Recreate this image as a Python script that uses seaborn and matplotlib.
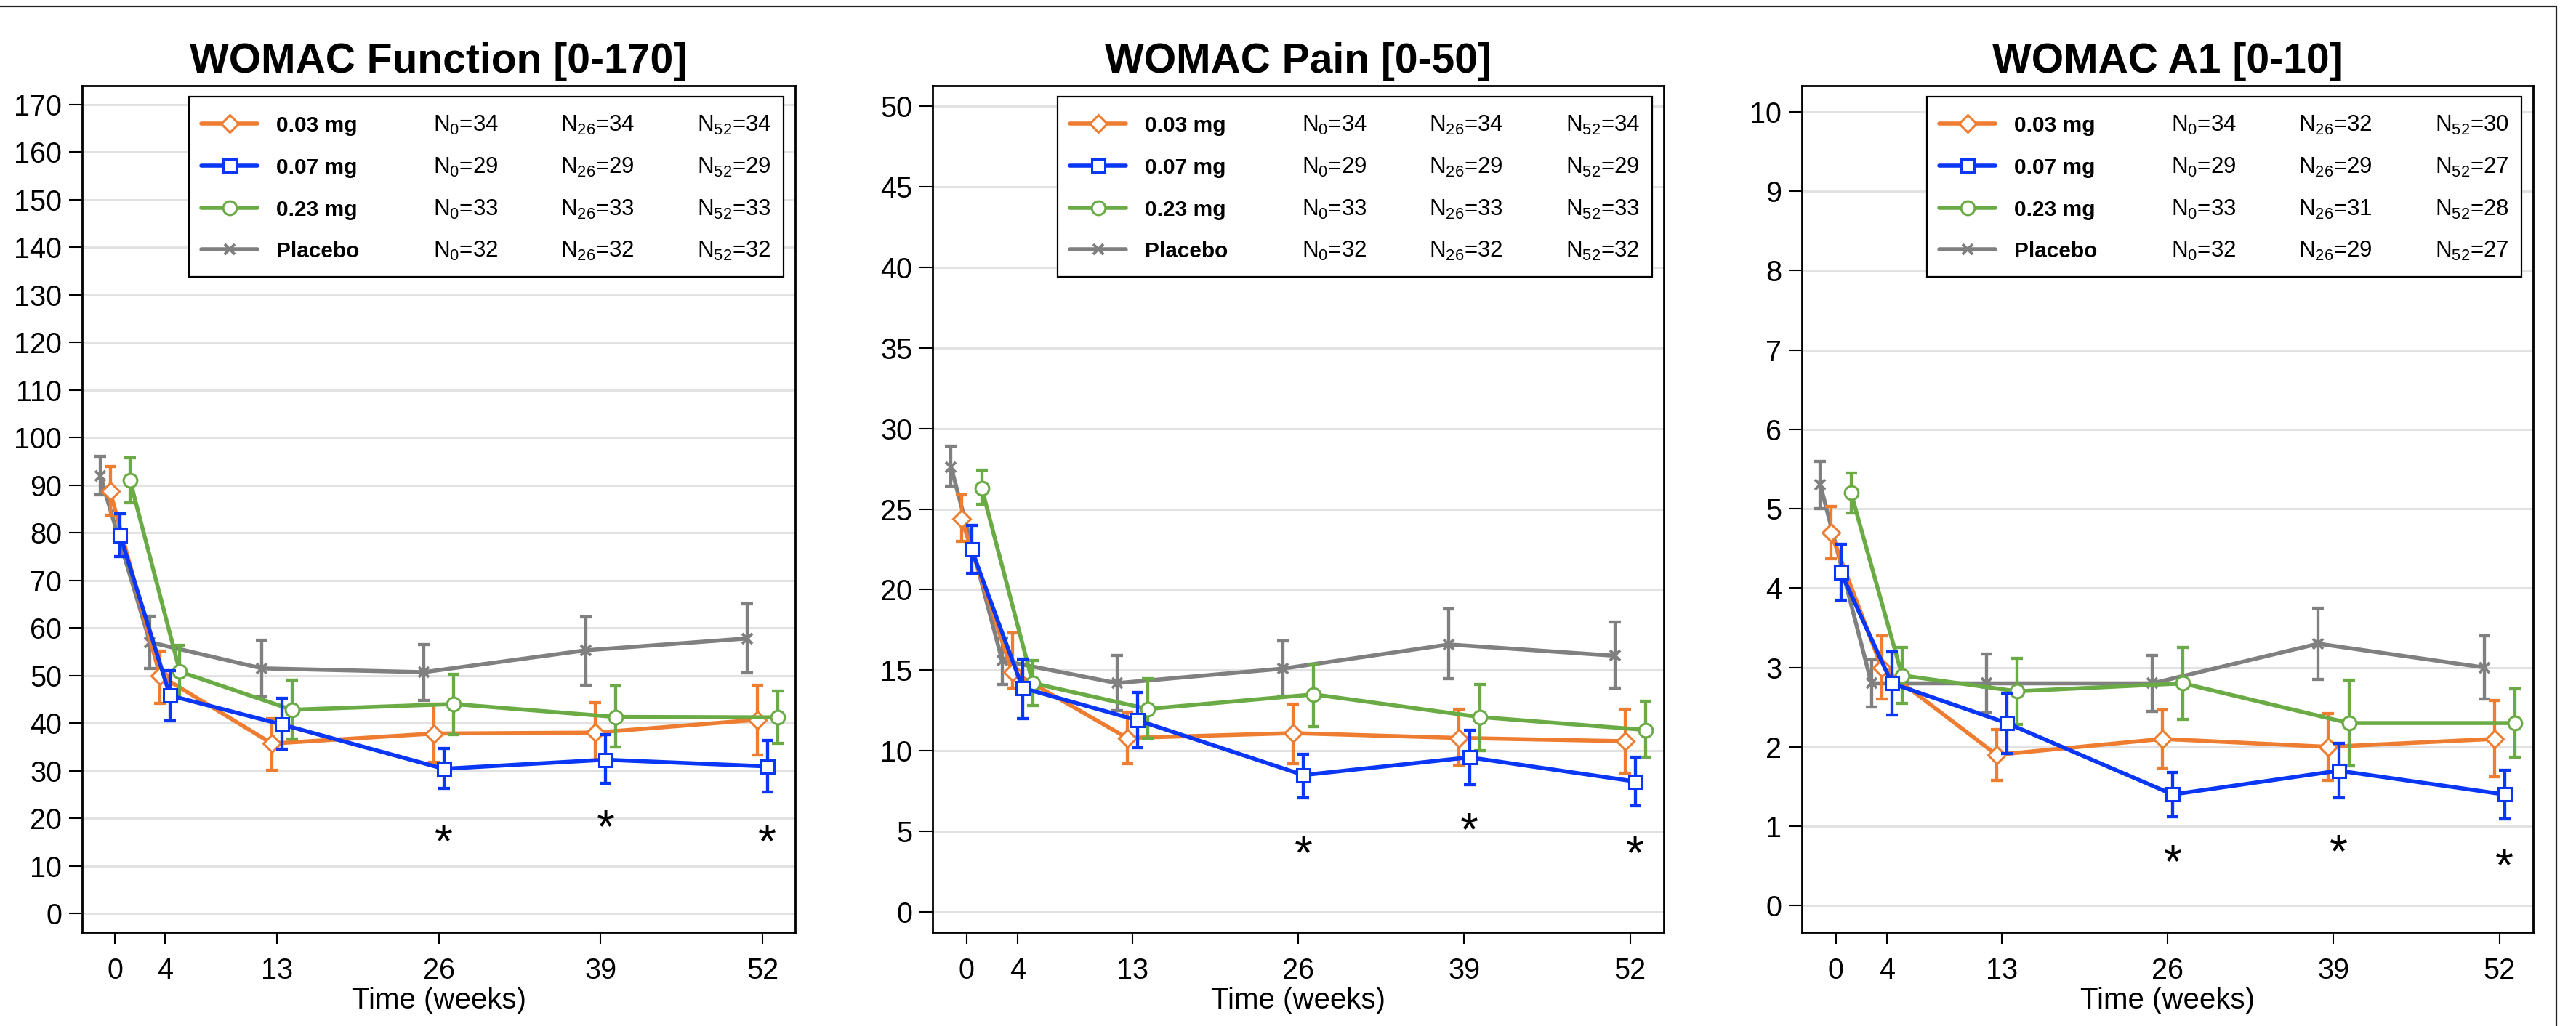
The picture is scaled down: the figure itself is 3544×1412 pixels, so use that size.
import numpy as np
import pandas as pd
import matplotlib
matplotlib.use("Agg")
import matplotlib.pyplot as plt
import matplotlib.transforms as mtransforms
import seaborn as sns
from matplotlib.lines import Line2D
from matplotlib.patches import Rectangle

# ------------------------------------------------------------------ data
WEEKS = [0, 4, 13, 26, 39, 52]
GROUPS = ["0.03 mg", "0.07 mg", "0.23 mg", "Placebo"]
STAR_WEEKS = [26, 39, 52]

# WOMAC Function [0-170]
FUNC_MEAN = {
    "0.03 mg": [88.7, 50.0, 35.7, 37.8, 38.0, 40.7],
    "0.07 mg": [79.5, 45.8, 39.7, 30.4, 32.3, 30.9],
    "0.23 mg": [91.0, 50.8, 42.8, 44.0, 41.3, 41.2],
    "Placebo": [92.0, 57.0, 51.5, 50.7, 55.3, 57.8],
}
FUNC_LO = {
    "0.03 mg": [83.7, 44.2, 30.1, 31.7, 32.3, 33.3],
    "0.07 mg": [75.0, 40.5, 34.5, 26.2, 27.3, 25.5],
    "0.23 mg": [86.3, 45.0, 36.7, 37.5, 35.0, 35.7],
    "Placebo": [88.0, 51.5, 45.5, 44.8, 48.0, 50.6],
}
FUNC_HI = {
    "0.03 mg": [94.0, 55.2, 41.0, 44.0, 44.3, 48.0],
    "0.07 mg": [84.0, 51.0, 45.2, 34.6, 37.5, 36.3],
    "0.23 mg": [95.7, 56.3, 49.0, 50.3, 47.8, 46.7],
    "Placebo": [96.0, 62.5, 57.5, 56.5, 62.3, 65.0],
}
FUNC_STARS = [17.6, 20.6, 17.6]
FUNC_N = {
    "0.03 mg": [34, 34, 34],
    "0.07 mg": [29, 29, 29],
    "0.23 mg": [33, 33, 33],
    "Placebo": [32, 32, 32],
}

# WOMAC Pain [0-50]
PAIN_MEAN = {
    "0.03 mg": [24.4, 14.9, 10.8, 11.1, 10.8, 10.6],
    "0.07 mg": [22.5, 13.9, 11.9, 8.5, 9.6, 8.1],
    "0.23 mg": [26.3, 14.2, 12.6, 13.5, 12.1, 11.3],
    "Placebo": [27.6, 15.6, 14.2, 15.1, 16.6, 15.9],
}
PAIN_LO = {
    "0.03 mg": [23.0, 13.9, 9.2, 9.2, 9.1, 8.6],
    "0.07 mg": [21.0, 12.0, 10.2, 7.1, 7.9, 6.6],
    "0.23 mg": [25.3, 12.8, 10.8, 11.5, 10.0, 9.6],
    "Placebo": [26.4, 14.1, 12.5, 13.4, 14.5, 13.9],
}
PAIN_HI = {
    "0.03 mg": [25.9, 17.3, 12.4, 12.9, 12.6, 12.6],
    "0.07 mg": [24.0, 15.7, 13.6, 9.8, 11.3, 9.6],
    "0.23 mg": [27.4, 15.6, 14.5, 15.4, 14.1, 13.1],
    "Placebo": [28.9, 17.0, 15.9, 16.8, 18.8, 18.0],
}
PAIN_STARS = [4.4, 5.8, 4.4]
PAIN_N = {
    "0.03 mg": [34, 34, 34],
    "0.07 mg": [29, 29, 29],
    "0.23 mg": [33, 33, 33],
    "Placebo": [32, 32, 32],
}

# WOMAC A1 [0-10]
A1_MEAN = {
    "0.03 mg": [4.7, 3.0, 1.9, 2.1, 2.0, 2.1],
    "0.07 mg": [4.2, 2.8, 2.3, 1.4, 1.7, 1.4],
    "0.23 mg": [5.2, 2.9, 2.7, 2.8, 2.3, 2.3],
    "Placebo": [5.3, 2.8, 2.8, 2.8, 3.3, 3.0],
}
A1_LO = {
    "0.03 mg": [4.37, 2.6, 1.58, 1.73, 1.58, 1.62],
    "0.07 mg": [3.85, 2.4, 1.92, 1.12, 1.36, 1.09],
    "0.23 mg": [4.95, 2.55, 2.28, 2.35, 1.76, 1.87],
    "Placebo": [5.0, 2.5, 2.43, 2.45, 2.85, 2.6],
}
A1_HI = {
    "0.03 mg": [5.03, 3.4, 2.22, 2.47, 2.42, 2.58],
    "0.07 mg": [4.55, 3.2, 2.68, 1.68, 2.04, 1.71],
    "0.23 mg": [5.45, 3.25, 3.12, 3.25, 2.84, 2.73],
    "Placebo": [5.6, 3.1, 3.17, 3.15, 3.75, 3.4],
}
A1_STARS = [0.7, 0.83, 0.65]
A1_N = {
    "0.03 mg": [34, 32, 30],
    "0.07 mg": [29, 29, 27],
    "0.23 mg": [33, 31, 28],
    "Placebo": [32, 29, 27],
}

TITLES = ["WOMAC Function [0-170]", "WOMAC Pain [0-50]", "WOMAC A1 [0-10]"]
Y_TICKS = [np.arange(0, 171, 10), np.arange(0, 51, 5), np.arange(0, 11, 1)]

# ------------------------------------------------------------------ style
COLORS = {"0.03 mg": "#EE7D31", "0.07 mg": "#0A36F5", "0.23 mg": "#6BAB45", "Placebo": "#808080"}
MARKERS = {"0.03 mg": "D", "0.07 mg": "s", "0.23 mg": "o", "Placebo": "x"}
MSIZE = {"0.03 mg": 12.5, "0.07 mg": 13.5, "0.23 mg": 13.5, "Placebo": 10.5}
OFFSET = {"0.03 mg": -0.4, "0.07 mg": 0.4, "0.23 mg": 1.2, "Placebo": -1.2}
ZORD = {"Placebo": 3, "0.03 mg": 4, "0.23 mg": 5, "0.07 mg": 6}
YLIMS = [(-3.97, 173.97), (-1.25, 51.25), (-0.336, 10.33)]
XLIM = (-2.65, 54.63)

W, H = 3544, 1412
DPI = 100
AX_TOP, AX_BOT = 118, 1283
AX_LR = [(113, 1094), (1283, 2289), (2479, 3485)]

sns.set_theme(style="white")
plt.rcParams["font.family"] = ["Liberation Sans", "DejaVu Sans"]
plt.rcParams["mathtext.default"] = "regular"

fig = plt.figure(figsize=(W / DPI, H / DPI), dpi=DPI)
fig.patch.set_facecolor("white")

panels = [
    (FUNC_MEAN, FUNC_LO, FUNC_HI, FUNC_STARS, FUNC_N),
    (PAIN_MEAN, PAIN_LO, PAIN_HI, PAIN_STARS, PAIN_N),
    (A1_MEAN, A1_LO, A1_HI, A1_STARS, A1_N),
]

LW = 4.0
ELW = 3.1
for i, (mean_d, lo_d, hi_d, stars, n_d) in enumerate(panels):
    l, r = AX_LR[i]
    ax = fig.add_axes([l / W, 1 - AX_BOT / H, (r - l) / W, (AX_BOT - AX_TOP) / H])
    ax.set_facecolor("white")

    for g in GROUPS:
        xs = np.array(WEEKS, dtype=float) + OFFSET[g]
        m = np.array(mean_d[g])
        lo = np.array(lo_d[g])
        hi = np.array(hi_d[g])
        c = COLORS[g]
        ax.errorbar(xs, m, yerr=[m - lo, hi - m], fmt="none", ecolor=c,
                    elinewidth=ELW, capsize=6, capthick=ELW, zorder=ZORD[g])
        df = pd.DataFrame({"week": xs, "score": m})
        sns.lineplot(data=df, x="week", y="score", ax=ax, color=c,
                     marker=MARKERS[g], markersize=MSIZE[g],
                     markerfacecolor="white", markeredgecolor=c,
                     markeredgewidth=2.8 if g == "Placebo" else 2.2,
                     linewidth=LW, estimator=None, sort=False, legend=False,
                     zorder=ZORD[g] + 0.5)

    # significance asterisks under 0.07 mg
    fs_star = 46
    star_tr = mtransforms.offset_copy(ax.transData, fig=fig, y=-0.58 * fs_star, units="points")
    for wk, yv in zip(STAR_WEEKS, stars):
        ax.text(wk + OFFSET["0.07 mg"], yv, "*", ha="center", va="baseline",
                fontsize=fs_star, color="black", transform=star_tr, zorder=8)

    ax.set_xlim(*XLIM)
    ax.set_ylim(*YLIMS[i])
    ax.set_xticks(WEEKS)
    ax.set_xticklabels([str(w) for w in WEEKS])
    ax.set_yticks(Y_TICKS[i])
    ax.set_yticklabels([str(v) for v in Y_TICKS[i]])
    ax.tick_params(axis="both", which="major", labelsize=28.5, colors="black",
                   direction="out", width=1.5)
    ax.tick_params(axis="y", left=True, length=13, pad=7)
    ax.tick_params(axis="x", bottom=True, length=11.5, pad=13)
    ax.yaxis.grid(True, color="#e2e2e2", linewidth=2.2)
    ax.xaxis.grid(False)
    ax.set_axisbelow(True)
    for sp in ax.spines.values():
        sp.set_visible(True)
        sp.set_color("black")
        sp.set_linewidth(2.0)
    ax.set_xlabel("Time (weeks)", fontsize=29, labelpad=2.5, color="black")
    ax.set_ylabel("")
    ax.set_title(TITLES[i], fontsize=41, fontweight="bold", pad=13, color="black")

    # legend table (pixel geometry converted to axes fractions)
    def fx(px):
        return (px - l) / (r - l)

    def fy(py):
        return (AX_BOT - py) / (AX_BOT - AX_TOP)

    leg_r = r - 16
    leg_l = leg_r - 818
    leg_t, leg_b = 133, 381
    ax.add_patch(Rectangle((fx(leg_l), fy(leg_b)), fx(leg_r) - fx(leg_l), fy(leg_t) - fy(leg_b),
                           transform=ax.transAxes, facecolor="white", edgecolor="black",
                           linewidth=1.6, zorder=10, clip_on=False))
    rows = [170, 228, 286, 343]
    for g, ry in zip(GROUPS, rows):
        c = COLORS[g]
        ax.add_line(Line2D([fx(leg_l + 17), fx(leg_l + 94)], [fy(ry), fy(ry)],
                           transform=ax.transAxes, color=c, linewidth=LW, zorder=11, clip_on=False))
        ax.add_line(Line2D([fx(leg_l + 56)], [fy(ry)], transform=ax.transAxes,
                           marker=MARKERS[g], markersize=MSIZE[g], markerfacecolor="white",
                           markeredgecolor=c, markeredgewidth=2.8 if g == "Placebo" else 2.2,
                           linestyle="none", zorder=12, clip_on=False))
        base = ry + 11
        ax.text(fx(leg_l + 120), fy(base), g, transform=ax.transAxes, fontsize=21.5,
                fontweight="bold", ha="left", va="baseline", zorder=12, color="black")
        n0, n26, n52 = n_d[g]
        for dx, sub, val in [(336, "0", n0), (511, "26", n26), (699, "52", n52)]:
            ax.text(fx(leg_l + dx), fy(base), "N$_{%s}$=%d" % (sub, val), transform=ax.transAxes,
                    fontsize=22.5, ha="left", va="baseline", zorder=12, color="black")

# outer frame lines (top and right)
fig.add_artist(Line2D([0, 3517 / W], [1 - 9 / H, 1 - 9 / H], transform=fig.transFigure,
                      color="#222222", linewidth=1.6))
fig.add_artist(Line2D([3517 / W, 3517 / W], [1 - 9 / H, 0], transform=fig.transFigure,
                      color="#222222", linewidth=1.6))

fig.savefig("out.png", dpi=DPI, facecolor="white")
